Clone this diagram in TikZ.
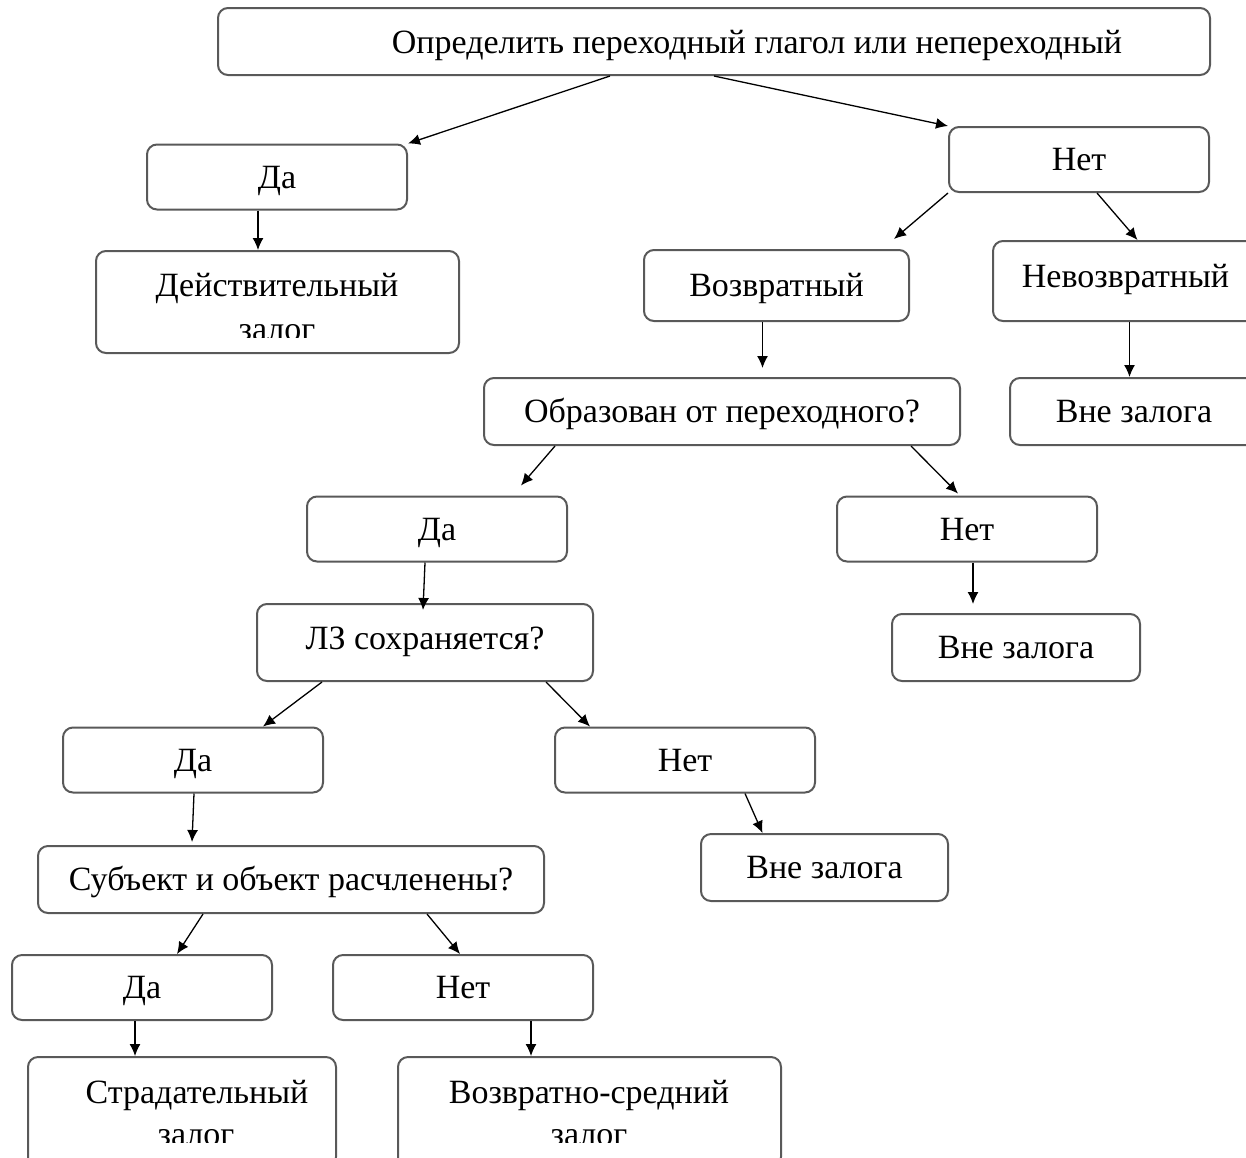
\documentclass[tikz,border=0pt]{standalone}
\usepackage{fontspec}
\setmainfont{Liberation Serif}
\usetikzlibrary{arrows.meta}

\tikzset{
  box/.style={draw=black!65, line width=1pt, rounded corners=5pt, inner sep=0pt, text height=11pt, text depth=0pt},
  small/.style={box, minimum width=130pt, minimum height=32.5pt},
  txt/.style={inner sep=0pt, text height=11pt, text depth=0pt},
  arr/.style={-{Latex[length=6pt,width=5.5pt]}, line width=0.65pt}
}

\begin{document}
\begin{tikzpicture}[x=0.5pt, y=-0.5pt, font=\fontsize{17}{20}\selectfont]
    \useasboundingbox (0,0) rectangle (1246,1157);

    % first question
    \node[box, minimum width=496pt, minimum height=33.5pt] (trans) at (714,41.5) {};
    \node[txt] (transtext) at (757,42) {Определить переходный глагол или непереходный};

    \node[small] (transyes) at (277,177) {Да};
    \node[small] (transno) at (1079,159.5) {Нет};

    \node[box, minimum width=181.5pt, minimum height=51pt] (active) at (277.5,302) {};
    \node[txt] (activetext) at (277,285) {Действительный};
    \begin{scope}
      \clip ([yshift=8.5pt]active.south west) rectangle (active.north east);
      \node[txt] (activevoice) at (277,329) {залог};
    \end{scope}

    \node[box, minimum width=132.5pt, minimum height=35.5pt] (refl) at (776.5,285.5) {Возвратный};
    \node[box, minimum width=132.5pt, minimum height=40pt, text depth=5pt] (nonrefl) at (1125.5,281) {Невозвратный};

    % second question
    \node[box, minimum width=238pt, minimum height=33.5pt] (derived) at (722,411.5) {Образован от переходного?};
    \node[box, minimum width=124pt, minimum height=33.5pt] (outside1) at (1134,411.5) {Вне залога};

    \node[small] (derivedyes) at (437,529) {Да};
    \node[small] (derivedno) at (967,529) {Нет};

    % third question
    \node[box, minimum width=168pt, minimum height=38.5pt, text depth=4.5pt] (lexkept) at (425,642.5) {ЛЗ сохраняется?};
    \node[box, minimum width=124pt, minimum height=33.5pt] (outside2) at (1016,647.5) {Вне залога};

    \node[small] (lexyes) at (193,760) {Да};
    \node[small] (lexno) at (685,760) {Нет};

    % fourth question
    \node[box, minimum width=253pt, minimum height=33.5pt] (split) at (291,879.5) {Субъект и объект расчленены?};
    \node[box, minimum width=123.5pt, minimum height=33.5pt] (outside3) at (824.5,867.5) {Вне залога};

    \node[small] (splityes) at (142,987.5) {Да};
    \node[small] (splitno) at (463,987.5) {Нет};

    \node[box, minimum width=154pt, minimum height=55pt] (passive) at (182,1112) {};
    \node[txt] (passivetext) at (197,1092) {Страдательный};
    \node[box, minimum width=191.5pt, minimum height=55pt] (middle) at (589.5,1112) {};
    \node[txt] (middletext) at (589,1092) {Возвратно-средний};
    \begin{scope}
      \clip ([yshift=13pt]passive.south west) rectangle (middle.north east);
      \node[txt] (passivevoice) at (196,1134) {залог};
      \node[txt] (middlevoice) at (589,1134) {залог};
    \end{scope}

    % arrows
    \draw[arr] ([xshift=-52pt]trans.south) -- (transyes.north east);
    \draw[arr] (trans.south) -- (transno.north west);
    \draw[arr] ([xshift=-9.5pt]transyes.south) -- ([xshift=-9.5pt]transyes.south |- active.north);
    \draw[arr] (transno.south west) -- ([xshift=-8pt,yshift=5pt]refl.north east);
    \draw[arr] ([xshift=9pt]transno.south) -- ([xshift=6pt]nonrefl.north);
    \draw[arr] ([xshift=-7pt]refl.south) -- ([xshift=-7pt,yshift=4.5pt]refl.south |- derived.north);
    \draw[arr] ([xshift=2pt]nonrefl.south) -- ([xshift=2pt]nonrefl.south |- outside1.north);
    \draw[arr] ([xshift=36pt]derived.south west) -- ([xshift=42pt,yshift=5pt]derivedyes.north);
    \draw[arr] ([xshift=-25pt]derived.south east) -- ([xshift=-4.5pt,yshift=1pt]derivedno.north);
    \draw[arr] ([xshift=-6pt]derivedyes.south) -- ([xshift=-1pt,yshift=-3.5pt]lexkept.north);
    \draw[arr] ([xshift=3pt]derivedno.south) -- ([xshift=3pt,yshift=4.5pt]derivedno.south |- outside2.north);
    \draw[arr] ([xshift=33pt]lexkept.south west) -- ([xshift=35pt]lexyes.north);
    \draw[arr] ([xshift=-24pt]lexkept.south east) -- ([xshift=-47.5pt]lexno.north);
    \draw[arr] ([xshift=0.5pt]lexyes.south) -- ([xshift=-0.5pt,yshift=1.5pt]lexyes.south |- split.north);
    \draw[arr] ([xshift=30pt]lexno.south) -- ([xshift=-31pt]outside3.north);
    \draw[arr] ([xshift=-44pt]split.south) -- ([xshift=17.5pt]splityes.north);
    \draw[arr] ([xshift=68pt]split.south) -- ([xshift=-1.5pt]splitno.north);
    \draw[arr] ([xshift=-3.5pt]splityes.south) -- ([xshift=-3.5pt]splityes.south |- passive.north);
    \draw[arr] ([xshift=34pt]splitno.south) -- ([xshift=34pt]splitno.south |- middle.north);
\end{tikzpicture}
\end{document}
